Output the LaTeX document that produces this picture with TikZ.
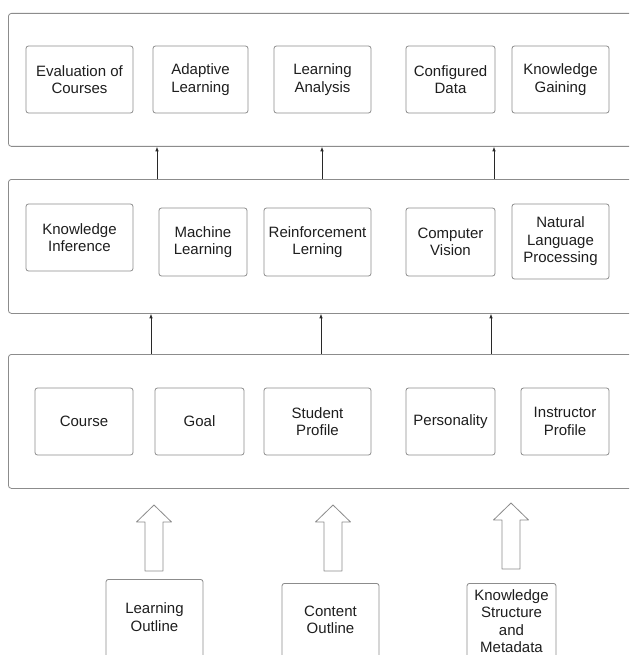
\documentclass[tikz,border=0pt]{standalone}
\usepackage{fontspec}
\setmainfont{Liberation Sans}
\usetikzlibrary{arrows.meta}
\definecolor{boxline}{RGB}{140,140,140}
\definecolor{txtcol}{RGB}{30,30,30}
\definecolor{arrline}{RGB}{40,40,40}
\tikzset{
  box/.style={draw=boxline, line width=0.8pt, rounded corners=2.5pt, inner sep=0pt,
    align=center, text=txtcol, font=\fontsize{15}{17.5}\selectfont},
  container/.style={draw=boxline, line width=0.8pt, rounded corners=3pt, inner sep=0pt},
  txt/.style={inner sep=0pt, align=center, text=txtcol, font=\fontsize{15}{17.5}\selectfont},
  arr/.style={draw=arrline, line width=0.7pt, -{Latex[length=4.5pt,width=3.5pt]}},
  harrow/.style={draw=boxline, line width=0.8pt, fill=white, line join=round}
}
\begin{document}
\begin{tikzpicture}[x=1pt,y=-1pt]
\clip (0,0) rectangle (629,655);
\fill[white] (0,0) rectangle (629,655);
% containers
\node[container, minimum width=650, minimum height=133, anchor=north west] (topc) at (8,13) {};
\node[container, minimum width=650, minimum height=134, anchor=north west] (midc) at (8,179) {};
\node[container, minimum width=650, minimum height=134, anchor=north west] (botc) at (8,354) {};
% top row
\node[box, minimum width=107, minimum height=67] (ev) at (79.5,79.5) {Evaluation of\\Courses};
\node[box, minimum width=95, minimum height=67] (ad) at (200.5,79.5) {Adaptive\\Learning};
\node[box, minimum width=97, minimum height=67] (la) at (322.5,79.5) {Learning\\Analysis};
\node[box, minimum width=89, minimum height=67] (cd) at (450.5,79.5) {Configured\\Data};
\node[box, minimum width=97, minimum height=67] (kg) at (560.5,79.5) {Knowledge\\Gaining};
% middle row
\node[box, minimum width=107, minimum height=67] (ki) at (79.5,237.5) {Knowledge\\Inference};
\node[box, minimum width=88, minimum height=68] (ml) at (203,242) {Machine\\Learning};
\node[box, minimum width=107, minimum height=68] (rl) at (317.5,242) {Reinforcement\\Lerning};
\node[box, minimum width=89, minimum height=68] (cv) at (450.5,242) {Computer\\Vision};
\node[box, minimum width=97, minimum height=75] (nlp) at (560.5,241.5) {Natural\\Language\\Processing};
% bottom row
\node[box, minimum width=98, minimum height=67] (co) at (84,421.5) {Course};
\node[box, minimum width=89, minimum height=67] (go) at (199.5,421.5) {Goal};
\node[box, minimum width=107, minimum height=67] (sp) at (317.5,421.5) {Student\\Profile};
\node[box, minimum width=89, minimum height=67] (pe) at (450.5,421.5) {Personality};
\node[box, minimum width=88, minimum height=67] (ip) at (565,421.5) {Instructor\\Profile};
% arrows between containers
\coordinate (a1) at (157,0);
\coordinate (a2) at (322,0);
\coordinate (a3) at (494,0);
\coordinate (b1) at (151,0);
\coordinate (b2) at (321,0);
\coordinate (b3) at (491,0);
\draw[arr] (midc.north -| a1) -- (topc.south -| a1);
\draw[arr] (midc.north -| a2) -- (topc.south -| a2);
\draw[arr] (midc.north -| a3) -- (topc.south -| a3);
\draw[arr] (botc.north -| b1) -- (midc.south -| b1);
\draw[arr] (botc.north -| b2) -- (midc.south -| b2);
\draw[arr] (botc.north -| b3) -- (midc.south -| b3);
% hollow arrows
\coordinate (h1) at (154,571);
\coordinate (h2) at (333,571);
\coordinate (h3) at (511,569);
\foreach \h in {h1,h2,h3}{
  \draw[harrow] (\h) ++(-9,0) -- ++(0,-49) -- ++(-8.5,0) -- ++(17.5,-17) -- ++(17.5,17) -- ++(-8.5,0) -- ++(0,49) -- cycle;
}
% input boxes
\node[box, minimum width=97, minimum height=120, anchor=north] (lo) at (154.5,579) {};
\node[box, minimum width=97, minimum height=120, anchor=north] (cof) at (330.5,583) {};
\node[box, minimum width=89, minimum height=120, anchor=north] (ks) at (511.5,583) {};
\node[txt] (lot) at (154.5,617) {Learning\\Outline};
\node[txt] (cot) at (330.5,620) {Content\\Outline};
\node[txt] (kst) at (511.5,621) {Knowledge\\Structure\\and\\Metadata};
\end{tikzpicture}
\end{document}
